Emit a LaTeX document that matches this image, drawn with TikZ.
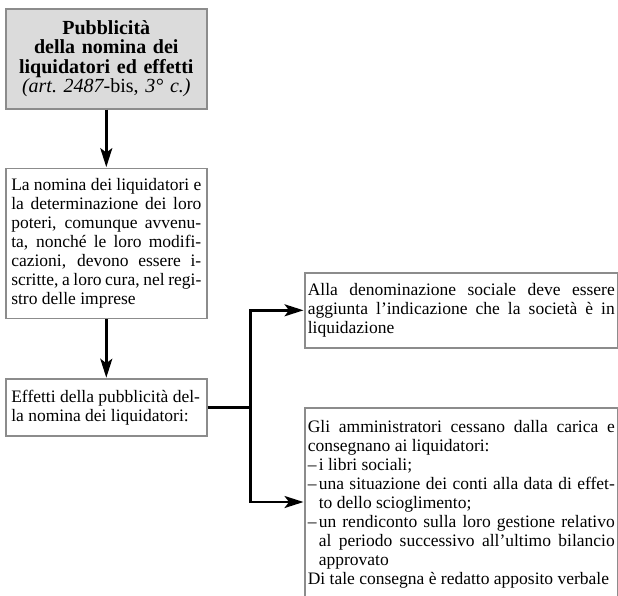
\documentclass[tikz,border=0pt]{standalone}
\usepackage{fontspec}
\setmainfont{Liberation Serif}
\usepackage{tikz}
\usetikzlibrary{arrows.meta,positioning}
\setlength{\parindent}{0pt}
\definecolor{boxgray}{gray}{0.55}
\definecolor{headgray}{gray}{0.86}
\newcommand{\dashitem}[1]{{\hangindent=11pt\hangafter=1\makebox[11pt][l]{–}#1\par}}

\begin{document}
\begin{tikzpicture}[>={Stealth[length=19pt,width=12pt,inset=4.5pt]},shorten >=0.5pt,
  line width=2.4pt,
  main node/.style={rectangle,draw=boxgray,line width=1.6pt,fill=white,text width=190pt,
    inner xsep=5.5pt,align=justify,font=\fontsize{17.5}{19}\selectfont},
  head node/.style={main node,fill=headgray,align=center,minimum height=100pt,
    font=\fontsize{20}{19.5}\selectfont\bfseries},
  side node/.style={main node,text width=307pt,inner xsep=3pt}]
  \useasboundingbox (0,0) rectangle (618pt,-595pt);

  \node[head node,anchor=north west] (1) at (5pt,-8pt)
    {Pubblicità\\della nomina dei\\liquidatori ed effetti\\
     {\mdseries\itshape (art.\ 2487}{\mdseries -bis,} {\mdseries\itshape 3° c.)}};
  \node[main node,minimum height=150pt] (2) [below=58pt of 1]
    {La nomina dei liquidatori e\linebreak la determinazione dei loro\linebreak
     poteri, comunque avvenu-\linebreak ta, nonché le loro modifi-\linebreak
     cazioni, devono essere i-\linebreak scritte, a loro cura, nel regi-\linebreak
     stro delle imprese};
  \node[main node,minimum height=57pt] (3) [below=59pt of 2]
    {Effetti della pubblicità del-\newline la nomina dei liquidatori:};
  \node[side node,minimum height=75pt,anchor=north west] (4) at (304pt,-272pt)
    {Alla denominazione sociale deve essere\linebreak
     aggiunta l'indicazione che la società è in\linebreak liquidazione};
  \node[side node,inner ysep=13pt,anchor=north west] (5) at (304pt,-407pt)
    {Gli amministratori cessano dalla carica e\linebreak consegnano ai liquidatori:\par
     \dashitem{i libri sociali;}
     \dashitem{una situazione dei conti alla data di effet-\linebreak to dello scioglimento;}
     \dashitem{un rendiconto sulla loro gestione relativo\linebreak
       al periodo successivo all'ultimo bilancio\linebreak approvato}
     Di tale consegna è redatto apposito verbale};

  \path[->] (1) edge (2)
    (2) edge (3);

  % fork to the two effects
  \path (3.east) ++(43pt,0) coordinate (fork);
  \coordinate (in5) at ([yshift=-95pt]5.north west);
  \draw (3) -- (fork);
  \draw[->] (fork) |- (4);
  \draw[->] (fork) |- (in5);
\end{tikzpicture}
\end{document}
